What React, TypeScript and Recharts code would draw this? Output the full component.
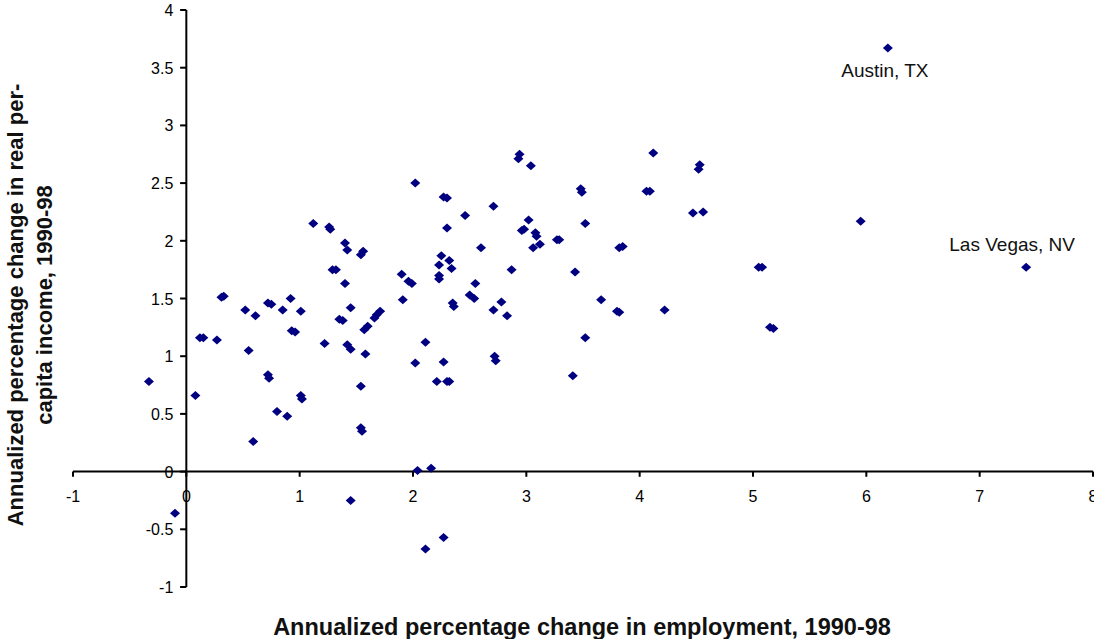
import React from 'react';
import { ReferenceDot, ReferenceLine, Scatter, ScatterChart, XAxis, YAxis } from 'recharts';

// annualized % change in employment, 1990-98 (x)
const employment = [
	-0.33, -0.1, 0.08, 0.12, 0.15, 0.27, 0.31, 0.33, 0.52, 0.55, 0.59, 0.61, 0.72, 0.73, 0.72, 0.75, 0.8, 0.85, 0.89,
	0.92, 0.93, 0.96, 1.01, 1.01, 1.02, 1.12, 1.22, 1.26, 1.27, 1.29, 1.32, 1.35, 1.38, 1.4, 1.42, 1.4, 1.42, 1.45,
	1.45, 1.45, 1.54, 1.54, 1.55, 1.54, 1.56, 1.57, 1.6, 1.58, 1.66, 1.68, 1.71, 1.9, 1.91, 1.96, 1.99, 2.02, 2.02,
	2.04, 2.11, 2.11, 2.16, 2.21, 2.23, 2.23, 2.23, 2.25, 2.27, 2.27, 2.27, 2.3, 2.3, 2.3, 2.32, 2.32, 2.34, 2.35,
	2.36, 2.46, 2.5, 2.54, 2.55, 2.6, 2.71, 2.71, 2.72, 2.73, 2.78, 2.83, 2.87, 2.94, 2.93, 2.96, 2.98, 3.02, 3.04,
	3.06, 3.08, 3.09, 3.12, 3.27, 3.29, 3.41, 3.43, 3.48, 3.49, 3.52, 3.52, 3.66, 3.8, 3.82, 3.82, 3.85, 4.06, 4.09,
	4.12, 4.22, 4.47, 4.52, 4.53, 4.56, 5.05, 5.08, 5.15, 5.18, 5.95, 6.19, 7.41
];

// annualized % change in real per-capita income, 1990-98 (y)
const income = [
	0.78, -0.36, 0.66, 1.16, 1.16, 1.14, 1.51, 1.52, 1.4, 1.05, 0.26, 1.35, 0.84, 0.81, 1.46, 1.45, 0.52, 1.4, 0.48,
	1.5, 1.22, 1.21, 1.39, 0.66, 0.63, 2.15, 1.11, 2.12, 2.1, 1.75, 1.75, 1.32, 1.31, 1.98, 1.92, 1.63, 1.1, 1.06,
	1.42, -0.25, 0.74, 0.38, 0.35, 1.88, 1.91, 1.23, 1.26, 1.02, 1.33, 1.36, 1.39, 1.71, 1.49, 1.65, 1.63, 2.5, 0.94,
	0.01, 1.12, -0.67, 0.03, 0.78, 1.79, 1.7, 1.67, 1.87, 0.95, -0.57, 2.38, 2.37, 2.11, 0.78, 0.78, 1.83, 1.76, 1.46,
	1.43, 2.22, 1.53, 1.5, 1.63, 1.94, 2.3, 1.4, 1.0, 0.96, 1.47, 1.35, 1.75, 2.75, 2.71, 2.09, 2.1, 2.18, 2.65,
	1.94, 2.07, 2.04, 1.97, 2.01, 2.01, 0.83, 1.73, 2.45, 2.42, 2.15, 1.16, 1.49, 1.39, 1.38, 1.94, 1.95, 2.43, 2.43,
	2.76, 1.4, 2.24, 2.62, 2.66, 2.25, 1.77, 1.77, 1.25, 1.24, 2.17, 3.67, 1.77
];

const xTicks = [-1, 0, 1, 2, 3, 4, 5, 6, 7, 8];
const yTicks = [-1, -0.5, 0, 0.5, 1, 1.5, 2, 2.5, 3, 3.5, 4];

const cityNames = ['Austin, TX', 'Las Vegas, NV'];
const cityX = [6.19, 7.41];
const cityY = [3.67, 1.77];

const data = employment.map((x, i) => ({ x, y: income[i] }));

const NAVY = '#000080';
const FONT = '"Liberation Sans", Arial, sans-serif';

const Diamond = (props: any) => {
	const { cx, cy } = props;
	return <polygon points={`${cx - 5},${cy} ${cx},${cy - 4.5} ${cx + 5},${cy} ${cx},${cy + 4.5}`} fill={NAVY} />;
};

const App = () => {
	return (
		<div style={{ position: 'absolute', left: 0, top: 0, width: 1094, height: 639, overflow: 'hidden', background: '#fff' }}>
			<ScatterChart width={1110} height={639} margin={{ top: 10, right: 17, bottom: 52, left: 73 }}>
				<XAxis type='number' dataKey='x' domain={[-1, 8]} hide />
				<YAxis type='number' dataKey='y' domain={[-1, 4]} hide />
				<ReferenceLine y={0} stroke='#000' strokeWidth={2} />
				<ReferenceLine x={0} stroke='#000' strokeWidth={2} />
				{xTicks.map(t => (
					<ReferenceLine
						key={'xt' + t}
						segment={[
							{ x: t, y: 0 },
							{ x: t, y: -0.045 }
						]}
						stroke='#000'
						strokeWidth={2}
					/>
				))}
				{yTicks.map(t => (
					<ReferenceLine
						key={'yt' + t}
						segment={[
							{ x: 0, y: t },
							{ x: -0.055, y: t }
						]}
						stroke='#000'
						strokeWidth={2}
					/>
				))}
				{xTicks.map(t => (
					<ReferenceDot
						key={'xl' + t}
						x={t}
						y={0}
						r={0}
						fill='none'
						stroke='none'
						label={{
							content: (p: any) => (
								<text x={p.viewBox.x} y={p.viewBox.y + 30} textAnchor='middle' fontSize={16} fontFamily={FONT} fill='#000'>
									{t}
								</text>
							)
						}}
					/>
				))}
				{yTicks.map(t => (
					<ReferenceDot
						key={'yl' + t}
						x={0}
						y={t}
						r={0}
						fill='none'
						stroke='none'
						label={{
							content: (p: any) => (
								<text x={p.viewBox.x - 13} y={p.viewBox.y + 6} textAnchor='end' fontSize={16} fontFamily={FONT} fill='#000'>
									{t}
								</text>
							)
						}}
					/>
				))}
				<Scatter data={data} shape={<Diamond />} isAnimationActive={false} />
				<ReferenceDot
					x={cityX[0]}
					y={cityY[0]}
					r={0}
					fill='none'
					stroke='none'
					label={{
						content: (p: any) => (
							<text x={p.viewBox.x - 3} y={p.viewBox.y + 29} textAnchor='middle' fontSize={19} fontFamily={FONT} fill='#111'>
								{cityNames[0]}
							</text>
						)
					}}
				/>
				<ReferenceDot
					x={cityX[1]}
					y={cityY[1]}
					r={0}
					fill='none'
					stroke='none'
					label={{
						content: (p: any) => (
							<text x={p.viewBox.x - 14} y={p.viewBox.y - 16} textAnchor='middle' fontSize={19} fontFamily={FONT} fill='#111'>
								{cityNames[1]}
							</text>
						)
					}}
				/>
			</ScatterChart>
			<div
				style={{
					position: 'absolute',
					left: 582,
					top: 627,
					transform: 'translate(-50%, -50%)',
					whiteSpace: 'nowrap',
					fontFamily: FONT,
					fontWeight: 'bold',
					fontSize: 23.5,
					color: '#111'
				}}
			>
				Annualized percentage change in employment, 1990-98
			</div>
			<div
				style={{
					position: 'absolute',
					left: 30,
					top: 305,
					transform: 'translate(-50%, -50%) rotate(-90deg)',
					whiteSpace: 'nowrap',
					textAlign: 'center',
					fontFamily: FONT,
					fontWeight: 'bold',
					fontSize: 22,
					lineHeight: '29px',
					color: '#111'
				}}
			>
				<div>Annualized percentage change in real per-</div>
				<div>capita income, 1990-98</div>
			</div>
		</div>
	);
};

export default App;
